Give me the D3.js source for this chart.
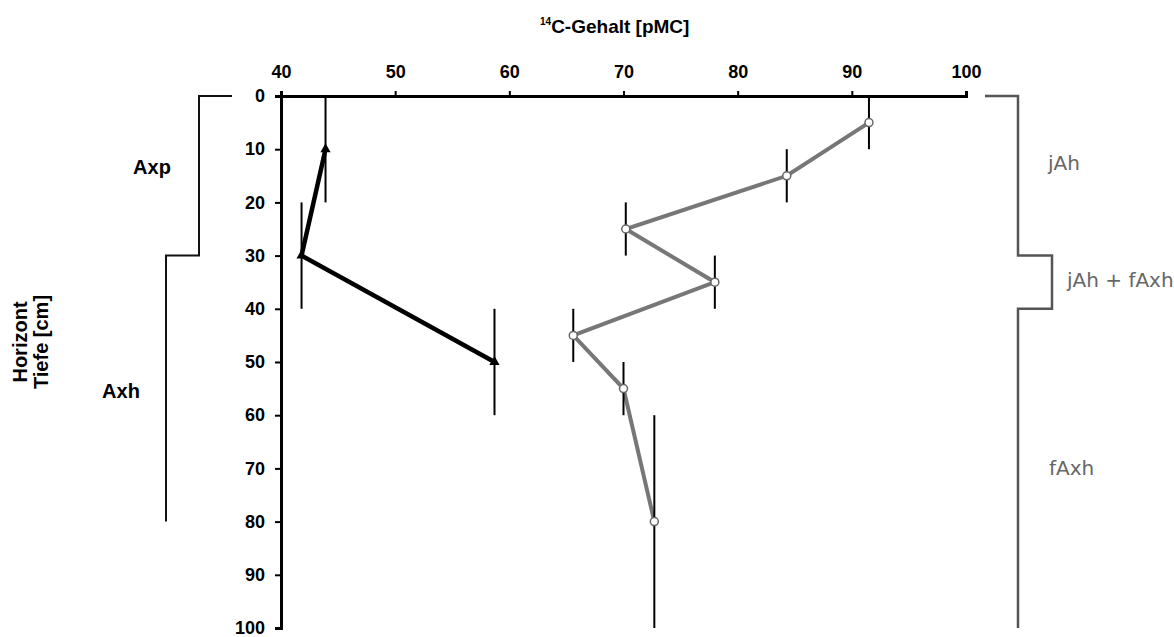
<!DOCTYPE html>
<html><head><meta charset="utf-8">
<script src="https://cdn.jsdelivr.net/npm/d3@7"></script>
<style>
body{margin:0;background:#fff;}
text{font-family:"Liberation Sans",Arial,sans-serif;}
</style></head>
<body><svg id="c" width="1174" height="637"></svg>
<script>
// ---- data ----
const xTicks = [40,50,60,70,80,90,100];
const yTicks = [0,10,20,30,40,50,60,70,80,90,100];
// Axp/Axh profile (black, triangles)
const blackDepth = [10,30,50];
const blackValue = [43.9,41.8,58.7];
const blackDepthTop = [0,20,40];
const blackDepthBottom = [20,40,60];
// jAh/fAxh profile (gray, circles)
const grayDepth = [5,15,25,35,45,55,80];
const grayValue = [91.5,84.3,70.2,78.0,65.6,70.0,72.7];
const grayDepthTop = [0,10,20,30,40,50,60];
const grayDepthBottom = [10,20,30,40,50,60,100];
// horizon boundaries
const leftHorizonBounds = [0,30,80];
const leftHorizonNames = ["Axp","Axh"];
const leftHorizonLabelDepth = [13.3,55.5];
const rightHorizonBounds = [0,30,40,100];
const rightHorizonNames = ["jAh","jAh + fAxh","fAxh"];
const rightHorizonLabelDepth = [12.6,34.6,70];

const svg = d3.select("#c");
const x = d3.scaleLinear().domain([40,100]).range([281,966]);
const y = d3.scaleLinear().domain([0,100]).range([96,628]);

// title
const t = svg.append("text").attr("x",540).attr("y",33)
  .attr("font-size",19).attr("font-weight","bold");
t.append("tspan").attr("font-size",10).attr("dy",-8).text("14");
t.append("tspan").attr("dy",8).text("C-Gehalt [pMC]");

// top axis
const gx = svg.append("g").attr("transform",`translate(0,${y(0)})`)
  .call(d3.axisTop(x).tickValues(xTicks).tickSizeOuter(0).tickSize(5).tickPadding(13).tickFormat(d3.format("d")));
gx.select(".domain").attr("stroke","#000").attr("stroke-width",3);
gx.selectAll(".tick line").attr("stroke","#000").attr("stroke-width",2);
gx.selectAll(".tick text").attr("font-size",18).attr("font-weight","bold").attr("fill","#000")
  .style("font-family","'Liberation Sans',Arial,sans-serif");

// left axis
const gy = svg.append("g").attr("transform",`translate(${x(40)},0)`)
  .call(d3.axisLeft(y).tickValues(yTicks).tickSizeOuter(0).tickSize(6).tickPadding(10).tickFormat(d3.format("d")));
gy.select(".domain").attr("stroke","#000").attr("stroke-width",3);
gy.selectAll(".tick line").attr("stroke","#000").attr("stroke-width",2);
gy.selectAll(".tick text").attr("font-size",18).attr("font-weight","bold").attr("fill","#000")
  .style("font-family","'Liberation Sans',Arial,sans-serif");

// y axis titles
[["Horizont",27],["Tiefe [cm]",48]].forEach(([s,px])=>{
  svg.append("text").attr("transform",`translate(${px},342) rotate(-90)`)
    .attr("text-anchor","middle").attr("font-size",20).attr("font-weight","bold").text(s);
});

// left horizon bracket
const lb = leftHorizonBounds;
const lPath = d3.path();
lPath.moveTo(232,y(lb[0])); lPath.lineTo(199,y(lb[0])); lPath.lineTo(199,y(lb[1]));
lPath.lineTo(166,y(lb[1])); lPath.lineTo(166,y(lb[2]));
svg.append("path").attr("d",lPath.toString()).attr("fill","none").attr("stroke","#111").attr("stroke-width",2);
leftHorizonNames.forEach((n,i)=>{
  svg.append("text").attr("x",i===0?152:121).attr("y",y(leftHorizonLabelDepth[i])).attr("dy","0.35em")
    .attr("text-anchor","middle").attr("font-size",20).attr("font-weight","bold").text(n);
});

// right horizon bracket
const rb = rightHorizonBounds;
const rPath = d3.path();
rPath.moveTo(985,y(rb[0])); rPath.lineTo(1018,y(rb[0])); rPath.lineTo(1018,y(rb[1]));
rPath.lineTo(1052,y(rb[1])); rPath.lineTo(1052,y(rb[2])); rPath.lineTo(1018,y(rb[2]));
rPath.lineTo(1018,y(rb[3]));
svg.append("path").attr("d",rPath.toString()).attr("fill","none").attr("stroke","#555").attr("stroke-width",2.5);
const rX = [1048,1067,1049];
rightHorizonNames.forEach((n,i)=>{
  svg.append("text").attr("x",rX[i]).attr("y",y(rightHorizonLabelDepth[i])).attr("dy","0.35em")
    .attr("font-size",20).attr("fill","#666").style("font-family","'DejaVu Sans',sans-serif").text(n);
});

// series
const grayData = grayDepth.map((d,i)=>({d, v:grayValue[i], t:grayDepthTop[i], b:grayDepthBottom[i]}));
const blackData = blackDepth.map((d,i)=>({d, v:blackValue[i], t:blackDepthTop[i], b:blackDepthBottom[i]}));
const line = d3.line().x(p=>x(p.v)).y(p=>y(p.d));

svg.append("path").datum(grayData).attr("d",line).attr("fill","none").attr("stroke","#777").attr("stroke-width",4);
svg.append("path").datum(blackData).attr("d",line).attr("fill","none").attr("stroke","#000").attr("stroke-width",4.5);

// error bars
svg.append("g").selectAll("line").data(grayData.concat(blackData)).join("line")
  .attr("x1",p=>x(p.v)).attr("x2",p=>x(p.v)).attr("y1",p=>y(p.t)).attr("y2",p=>y(p.b))
  .attr("stroke","#000").attr("stroke-width",2);

// markers
svg.append("g").selectAll("circle").data(grayData).join("circle")
  .attr("cx",p=>x(p.v)).attr("cy",p=>y(p.d)).attr("r",4)
  .attr("fill","#fff").attr("stroke","#666").attr("stroke-width",1.5);
svg.append("g").selectAll("path").data(blackData).join("path")
  .attr("d",d3.symbol().type(d3.symbolTriangle).size(45))
  .attr("transform",p=>`translate(${x(p.v)},${y(p.d)})`).attr("fill","#000");
</script></body></html>
